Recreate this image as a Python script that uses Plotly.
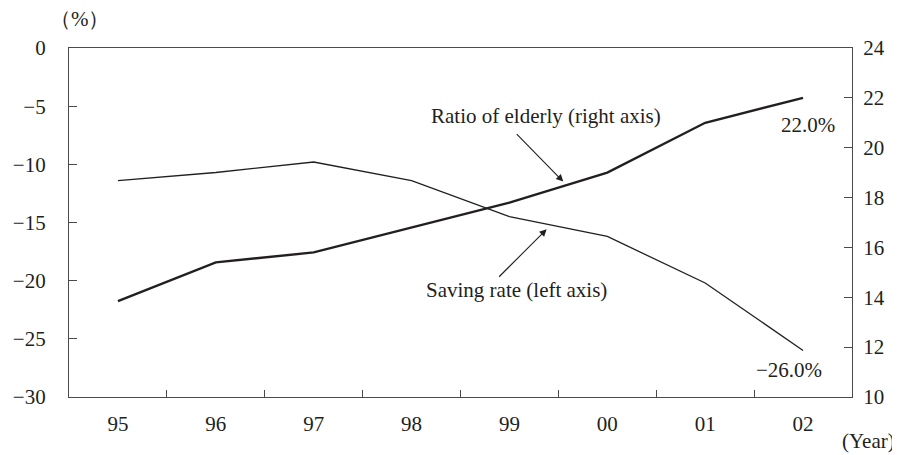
import plotly.graph_objects as go

years = ["95", "96", "97", "98", "99", "00", "01", "02"]
saving_rate = [-11.4, -10.7, -9.8, -11.4, -14.5, -16.2, -20.2, -26.0]
elderly_ratio = [13.85, 15.4, 15.8, 16.8, 17.8, 19.0, 21.0, 22.0]

left_ticks = [0, -5, -10, -15, -20, -25, -30]
left_text = ["0", "−5", "−10", "−15", "−20", "−25", "−30"]
right_ticks = [10, 12, 14, 16, 18, 20, 22, 24]

FONT = "Liberation Serif"
TXT = "#231f20"
LINE = "#231f20"
AX = "#4a4a4a"

# page body has an 8px margin; plot area target: x 69..852, y 48..397
OFF = 8
L, R, T, B = 69 - OFF, 900 - 852 + OFF, 48 - OFF, 455 - 397 + OFF
PW, PH = 900 - L - R, 455 - T - B


def px(xp):
    return (xp - OFF - L) / PW


def py(yp):
    return (455 - B - (yp - OFF)) / PH


fig = go.Figure()
fig.add_trace(go.Scatter(x=years, y=saving_rate, mode="lines",
                         line=dict(color=LINE, width=1.3), yaxis="y",
                         showlegend=False))
fig.add_trace(go.Scatter(x=years, y=elderly_ratio, mode="lines",
                         line=dict(color=LINE, width=2.4), yaxis="y2",
                         showlegend=False))

fig.update_layout(
    width=900, height=455,
    margin=dict(l=L, r=R, t=T, b=B, autoexpand=False),
    paper_bgcolor="white", plot_bgcolor="white",
    font=dict(family=FONT, size=21, color=TXT),
    xaxis=dict(type="category", range=[-0.5, 7.5], showgrid=False,
               showline=True, linecolor=AX, linewidth=1.2, mirror=True,
               ticks="inside", tickson="boundaries", ticklen=7,
               tickcolor=AX, ticklabelstandoff=8, zeroline=False,
               automargin=False),
    yaxis=dict(range=[-30, 0], tickvals=left_ticks, ticktext=left_text,
               showgrid=False, zeroline=False, showline=True,
               linecolor=AX, linewidth=1.2, ticks="inside", ticklen=8,
               tickcolor=AX, ticklabelstandoff=18, automargin=False),
    yaxis2=dict(range=[10, 24], tickvals=right_ticks, overlaying="y",
                side="right", showgrid=False, zeroline=False, showline=True,
                linecolor=AX, linewidth=1.2, ticks="inside", ticklen=8,
                tickcolor=AX, ticklabelstandoff=6, automargin=False),
)

ann = []
# arrows
ann.append(dict(x=4.55, y=18.64, xref="x", yref="y2", text="", showarrow=True,
                ax=-48, ay=-49, arrowhead=2, arrowsize=1.3, arrowwidth=1.1,
                arrowcolor=LINE))
ann.append(dict(x=4.38, y=-15.58, xref="x", yref="y", text="", showarrow=True,
                ax=-49, ay=49, arrowhead=2, arrowsize=1.3, arrowwidth=1.1,
                arrowcolor=LINE))
# labels
ann.append(dict(x=4.37, y=21.27, xref="x", yref="y2", xanchor="center",
                text="Ratio of elderly (right axis)", showarrow=False))
ann.append(dict(x=4.07, y=-20.8, xref="x", yref="y", xanchor="center",
                text="Saving rate (left axis)", showarrow=False))
ann.append(dict(x=7.05, y=20.91, xref="x", yref="y2", xanchor="center",
                text=f"{elderly_ratio[-1]:.1f}%", showarrow=False))
ann.append(dict(x=6.86, y=-27.68, xref="x", yref="y", xanchor="center",
                text=f"−{abs(saving_rate[-1]):.1f}%", showarrow=False))
ann.append(dict(x=px(80), y=py(19), xref="paper", yref="paper",
                xanchor="center", yanchor="middle",
                text="（%）", showarrow=False))
ann.append(dict(x=px(868), y=py(441), xref="paper", yref="paper",
                xanchor="center", yanchor="middle",
                text="(Year)", showarrow=False))
fig.update_layout(annotations=ann)

fig.write_html("out.html")
